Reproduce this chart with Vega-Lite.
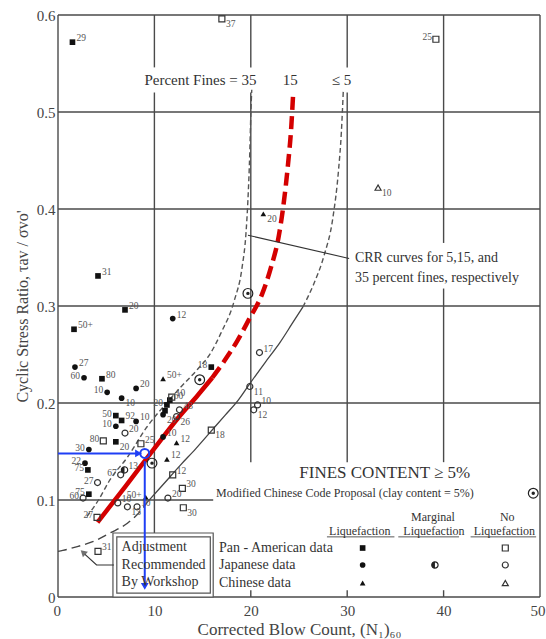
{
"$schema": "https://vega.github.io/schema/vega-lite/v6.json",
"width": 482, "height": 582,
"autosize": {"type": "none"},
"padding": {"left": 58, "top": 15, "right": 6, "bottom": 42},
"background": "white",
"config": {"view": {"stroke": null}, "font": "Liberation Serif"},
"datasets": {
"grid": [
{"x":10,"y":0.065,"x2":10,"y2":0.52},{"x":10,"y":0.546,"x2":10,"y2":0.6},
{"x":20,"y":0.139,"x2":20,"y2":0.52},{"x":20,"y":0.546,"x2":20,"y2":0.6},
{"x":30,"y":0.139,"x2":30,"y2":0.52},{"x":30,"y":0.546,"x2":30,"y2":0.6},
{"x":40,"y":0.139,"x2":40,"y2":0.318},{"x":40,"y":0.365,"x2":40,"y2":0.6},
{"x":0,"y":0.1,"x2":16.1,"y2":0.1},{"x":0,"y":0.2,"x2":50,"y2":0.2},{"x":0,"y":0.3,"x2":50,"y2":0.3},{"x":0,"y":0.4,"x2":50,"y2":0.4},{"x":0,"y":0.5,"x2":50,"y2":0.5},
{"x":0,"y":0,"x2":50,"y2":0},{"x":0,"y":0.6,"x2":50,"y2":0.6},{"x":0,"y":0,"x2":0,"y2":0.6},{"x":50,"y":0,"x2":50,"y2":0.6},
{"x":20,"y":0,"x2":20,"y2":0.007},{"x":30,"y":0,"x2":30,"y2":0.007},{"x":40,"y":0,"x2":40,"y2":0.007}
],
"underline": [
{"x":27.9,"y":0.062,"x2":34.9,"y2":0.062},{"x":35.3,"y":0.062,"x2":41.6,"y2":0.062},{"x":42.8,"y":0.062,"x2":49.6,"y2":0.062}
],
"curves": [
{"curve":"35","part":"all","x":3.0,"y":0.083},{"curve":"35","part":"all","x":4.2,"y":0.100},{"curve":"35","part":"all","x":5.4,"y":0.121},{"curve":"35","part":"all","x":7.2,"y":0.144},{"curve":"35","part":"all","x":9.2,"y":0.175},{"curve":"35","part":"all","x":11.0,"y":0.197},{"curve":"35","part":"all","x":12.7,"y":0.216},{"curve":"35","part":"all","x":14.5,"y":0.235},{"curve":"35","part":"all","x":15.8,"y":0.251},{"curve":"35","part":"all","x":16.9,"y":0.272},{"curve":"35","part":"all","x":18.3,"y":0.306},{"curve":"35","part":"all","x":19.1,"y":0.340},{"curve":"35","part":"all","x":19.5,"y":0.375},{"curve":"35","part":"all","x":19.7,"y":0.409},{"curve":"35","part":"all","x":19.9,"y":0.460},{"curve":"35","part":"all","x":20.0,"y":0.497},{"curve":"35","part":"all","x":20.1,"y":0.523},
{"curve":"15","part":"lower","x":4.1,"y":0.077},{"curve":"15","part":"lower","x":7.0,"y":0.114},{"curve":"15","part":"lower","x":9.9,"y":0.152},{"curve":"15","part":"lower","x":12.5,"y":0.185},{"curve":"15","part":"lower","x":14.5,"y":0.208},{"curve":"15","part":"lower","x":16.0,"y":0.226},
{"curve":"15","part":"upper","x":16.0,"y":0.226},{"curve":"15","part":"upper","x":17.3,"y":0.244},{"curve":"15","part":"upper","x":18.6,"y":0.264},{"curve":"15","part":"upper","x":19.8,"y":0.286},{"curve":"15","part":"upper","x":21.2,"y":0.313},{"curve":"15","part":"upper","x":22.1,"y":0.340},{"curve":"15","part":"upper","x":22.9,"y":0.372},{"curve":"15","part":"upper","x":23.4,"y":0.405},{"curve":"15","part":"upper","x":23.85,"y":0.445},{"curve":"15","part":"upper","x":24.2,"y":0.485},{"curve":"15","part":"upper","x":24.4,"y":0.520},
{"curve":"5","part":"lower","x":0,"y":0.047},{"curve":"5","part":"lower","x":0.5,"y":0.048},{"curve":"5","part":"lower","x":2.0,"y":0.052},{"curve":"5","part":"lower","x":3.6,"y":0.057},{"curve":"5","part":"lower","x":5.4,"y":0.066},{"curve":"5","part":"lower","x":7.2,"y":0.076},{"curve":"5","part":"lower","x":8.5,"y":0.088},{"curve":"5","part":"lower","x":9.2,"y":0.097},
{"curve":"5","part":"mid","x":9.2,"y":0.097},{"curve":"5","part":"mid","x":11.0,"y":0.117},{"curve":"5","part":"mid","x":12.7,"y":0.136},{"curve":"5","part":"mid","x":14.3,"y":0.153},{"curve":"5","part":"mid","x":15.8,"y":0.170},{"curve":"5","part":"mid","x":17.3,"y":0.187},{"curve":"5","part":"mid","x":18.7,"y":0.203},{"curve":"5","part":"mid","x":19.9,"y":0.220},{"curve":"5","part":"mid","x":21.5,"y":0.242},{"curve":"5","part":"mid","x":23.0,"y":0.262},{"curve":"5","part":"mid","x":24.3,"y":0.282},{"curve":"5","part":"mid","x":25.4,"y":0.299},
{"curve":"5","part":"upper","x":25.4,"y":0.299},{"curve":"5","part":"upper","x":26.5,"y":0.322},{"curve":"5","part":"upper","x":27.6,"y":0.352},{"curve":"5","part":"upper","x":28.5,"y":0.390},{"curve":"5","part":"upper","x":29.1,"y":0.440},{"curve":"5","part":"upper","x":29.4,"y":0.480},{"curve":"5","part":"upper","x":29.6,"y":0.523}
],
"points": [
{"x":1.5,"y":0.572,"src":"Pan-American","res":"Liquefaction","label":"29","side":"r"},
{"x":4.15,"y":0.331,"src":"Pan-American","res":"Liquefaction","label":"31","side":"r"},
{"x":6.95,"y":0.296,"src":"Pan-American","res":"Liquefaction","label":"20","side":"r"},
{"x":1.66,"y":0.276,"src":"Pan-American","res":"Liquefaction","label":"50+","side":"r"},
{"x":4.56,"y":0.225,"src":"Pan-American","res":"Liquefaction","label":"80","side":"r"},
{"x":6.0,"y":0.187,"src":"Pan-American","res":"Liquefaction","label":"50","side":"l"},
{"x":6.6,"y":0.182,"src":"Pan-American","res":"Liquefaction","label":"92","side":"r"},
{"x":6.0,"y":0.160,"src":"Pan-American","res":"Liquefaction","label":"20","side":"b"},
{"x":3.1,"y":0.131,"src":"Pan-American","res":"Liquefaction","label":"75","side":"l"},
{"x":3.2,"y":0.106,"src":"Pan-American","res":"Liquefaction","label":"75","side":"l"},
{"x":15.9,"y":0.237,"src":"Pan-American","res":"Liquefaction","label":"18","side":"l"},
{"x":11.3,"y":0.198,"src":"Pan-American","res":"Liquefaction","label":"20","side":"l"},
{"x":11.6,"y":0.203,"src":"Pan-American","res":"Liquefaction","label":"60","side":"r"},
{"x":11.1,"y":0.192,"src":"Pan-American","res":"Liquefaction","label":"","side":"r"},
{"x":11.9,"y":0.287,"src":"Japanese","res":"Liquefaction","label":"12","side":"r"},
{"x":1.76,"y":0.237,"src":"Japanese","res":"Liquefaction","label":"27","side":"r"},
{"x":2.7,"y":0.226,"src":"Japanese","res":"Liquefaction","label":"60","side":"l"},
{"x":5.1,"y":0.211,"src":"Japanese","res":"Liquefaction","label":"10","side":"l"},
{"x":8.1,"y":0.215,"src":"Japanese","res":"Liquefaction","label":"20","side":"r"},
{"x":6.6,"y":0.205,"src":"Japanese","res":"Liquefaction","label":"10","side":"b"},
{"x":6.0,"y":0.176,"src":"Japanese","res":"Liquefaction","label":"10","side":"l"},
{"x":8.1,"y":0.181,"src":"Japanese","res":"Liquefaction","label":"10","side":"r"},
{"x":3.2,"y":0.152,"src":"Japanese","res":"Liquefaction","label":"30","side":"l"},
{"x":2.8,"y":0.138,"src":"Japanese","res":"Liquefaction","label":"22","side":"l"},
{"x":10.9,"y":0.165,"src":"Japanese","res":"Liquefaction","label":"10","side":"r"},
{"x":10.9,"y":0.188,"src":"Japanese","res":"Liquefaction","label":"20","side":"b"},
{"x":20.9,"y":0.252,"src":"Japanese","res":"No Liquefaction","label":"17","side":"r"},
{"x":19.9,"y":0.217,"src":"Japanese","res":"No Liquefaction","label":"11","side":"b"},
{"x":20.7,"y":0.198,"src":"Japanese","res":"No Liquefaction","label":"10","side":"r"},
{"x":20.3,"y":0.193,"src":"Japanese","res":"No Liquefaction","label":"12","side":"b"},
{"x":6.95,"y":0.169,"src":"Japanese","res":"No Liquefaction","label":"20","side":"r"},
{"x":4.1,"y":0.118,"src":"Japanese","res":"No Liquefaction","label":"27","side":"l"},
{"x":2.6,"y":0.102,"src":"Japanese","res":"No Liquefaction","label":"60","side":"l"},
{"x":6.2,"y":0.097,"src":"Japanese","res":"No Liquefaction","label":"10","side":"r"},
{"x":7.2,"y":0.093,"src":"Japanese","res":"No Liquefaction","label":"13","side":"b"},
{"x":8.2,"y":0.093,"src":"Japanese","res":"No Liquefaction","label":"10","side":"r"},
{"x":11.4,"y":0.102,"src":"Japanese","res":"No Liquefaction","label":"20","side":"r"},
{"x":12.6,"y":0.193,"src":"Japanese","res":"No Liquefaction","label":"48","side":"r"},
{"x":12.3,"y":0.186,"src":"Japanese","res":"No Liquefaction","label":"26","side":"b"},
{"x":6.5,"y":0.126,"src":"Japanese","res":"No Liquefaction","label":"67","side":"l"},
{"x":17.0,"y":0.596,"src":"Pan-American","res":"No Liquefaction","label":"37","side":"b"},
{"x":39.2,"y":0.575,"src":"Pan-American","res":"No Liquefaction","label":"25","side":"l"},
{"x":15.9,"y":0.172,"src":"Pan-American","res":"No Liquefaction","label":"18","side":"b"},
{"x":4.7,"y":0.161,"src":"Pan-American","res":"No Liquefaction","label":"80","side":"l"},
{"x":8.6,"y":0.158,"src":"Pan-American","res":"No Liquefaction","label":"25","side":"r"},
{"x":12.9,"y":0.112,"src":"Pan-American","res":"No Liquefaction","label":"30","side":"r"},
{"x":13.0,"y":0.092,"src":"Pan-American","res":"No Liquefaction","label":"30","side":"b"},
{"x":11.9,"y":0.126,"src":"Pan-American","res":"No Liquefaction","label":"12","side":"r"},
{"x":4.05,"y":0.082,"src":"Pan-American","res":"No Liquefaction","label":"27","side":"l"},
{"x":4.15,"y":0.047,"src":"Pan-American","res":"No Liquefaction","label":"31","side":"r"},
{"x":11.8,"y":0.206,"src":"Pan-American","res":"No Liquefaction","label":"10","side":"r"},
{"x":10.9,"y":0.225,"src":"Chinese","res":"Liquefaction","label":"50+","side":"r"},
{"x":21.3,"y":0.395,"src":"Chinese","res":"Liquefaction","label":"20","side":"b"},
{"x":11.3,"y":0.142,"src":"Chinese","res":"Liquefaction","label":"12","side":"r"},
{"x":12.3,"y":0.159,"src":"Chinese","res":"Liquefaction","label":"12","side":"r"},
{"x":9.1,"y":0.103,"src":"Chinese","res":"Liquefaction","label":"50+","side":"l"},
{"x":33.2,"y":0.422,"src":"Chinese","res":"No Liquefaction","label":"10","side":"b"},
{"x":6.9,"y":0.131,"src":"Japanese","res":"Marginal","label":"13","side":"r"},
{"x":14.7,"y":0.224,"src":"Modified Chinese Code","res":"Clay","label":"","side":"r"},
{"x":19.7,"y":0.313,"src":"Modified Chinese Code","res":"Clay","label":"","side":"r"},
{"x":9.75,"y":0.138,"src":"Modified Chinese Code","res":"Clay","label":"","side":"r"},
{"x":49.3,"y":0.107,"src":"Modified Chinese Code","res":"Clay","label":"","side":"r"},
{"x":31.6,"y":0.0505,"src":"Pan-American","res":"Liquefaction","label":"","side":"r"},
{"x":31.6,"y":0.033,"src":"Japanese","res":"Liquefaction","label":"","side":"r"},
{"x":31.6,"y":0.0144,"src":"Chinese","res":"Liquefaction","label":"","side":"r"},
{"x":39.1,"y":0.033,"src":"Japanese","res":"Marginal","label":"","side":"r"},
{"x":46.4,"y":0.0505,"src":"Pan-American","res":"No Liquefaction","label":"","side":"r"},
{"x":46.4,"y":0.033,"src":"Japanese","res":"No Liquefaction","label":"","side":"r"},
{"x":46.4,"y":0.0144,"src":"Chinese","res":"No Liquefaction","label":"","side":"r"}
]
},
"encoding": {
"x": {"field": "x", "type": "quantitative", "scale": {"domain": [0, 50], "nice": false, "zero": false},
 "axis": {"values": [0,10,20,30,40,50], "grid": false, "domain": false, "ticks": false, "labelFont": "Liberation Serif", "labelFontSize": 15, "labelColor": "#444", "labelPadding": 6, "labelFlush": true, "labelFlushOffset": 5, "title": "Corrected Blow Count, (N₁)₆₀", "titleFont": "Liberation Serif", "titleFontSize": 17, "titleFontWeight": "normal", "titleColor": "#444", "titlePadding": 3}},
"y": {"field": "y", "type": "quantitative", "scale": {"domain": [0, 0.6], "nice": false, "zero": false},
 "axis": {"values": [0,0.1,0.2,0.3,0.4,0.5,0.6], "format": ".1~f", "grid": false, "domain": false, "ticks": false, "labelFont": "Liberation Serif", "labelFontSize": 15, "labelColor": "#444", "labelPadding": 3, "labelFlush": false, "title": "Cyclic Stress Ratio, τav / σvo'", "titleFont": "Liberation Serif", "titleFontSize": 16, "titleFontWeight": "normal", "titleColor": "#444", "titlePadding": 6}}
},
"layer": [
{"data": {"name": "grid"}, "mark": {"type": "rule", "color": "#4a4a4a", "strokeWidth": 1.4}, "encoding": {"x2": {"field": "x2"}, "y2": {"field": "y2"}}},
{"data": {"name": "underline"}, "mark": {"type": "rule", "color": "#444", "strokeWidth": 0.9}, "encoding": {"x2": {"field": "x2"}, "y2": {"field": "y2"}}},
{"data": {"values": [{"x": 5.7, "y": 0, "x2": 16.1, "y2": 0.066}]}, "mark": {"type": "rect", "fill": "white", "stroke": "#555", "strokeWidth": 1.2}, "encoding": {"x2": {"field": "x2"}, "y2": {"field": "y2"}}},
{"data": {"values": [{"x": 6.1, "y": 0.004, "x2": 15.8, "y2": 0.062}]}, "mark": {"type": "rect", "fill": "white", "stroke": "#555", "strokeWidth": 1.2}, "encoding": {"x2": {"field": "x2"}, "y2": {"field": "y2"}}},
{"data": {"name": "curves"}, "transform": [{"filter": "datum.curve == '35'"}], "mark": {"type": "line", "color": "#555", "strokeWidth": 1.4, "strokeDash": [5, 3], "interpolate": "monotone"}, "encoding": {"order": {"field": "y"}}},
{"data": {"name": "curves"}, "transform": [{"filter": "datum.curve == '5' && datum.part == 'lower'"}], "mark": {"type": "line", "color": "#444", "strokeWidth": 1.4, "strokeDash": [9, 5], "interpolate": "monotone"}, "encoding": {"order": {"field": "y"}}},
{"data": {"name": "curves"}, "transform": [{"filter": "datum.curve == '5' && datum.part == 'mid'"}], "mark": {"type": "line", "color": "#444", "strokeWidth": 1.3, "interpolate": "monotone"}, "encoding": {"order": {"field": "y"}}},
{"data": {"name": "curves"}, "transform": [{"filter": "datum.curve == '5' && datum.part == 'upper'"}], "mark": {"type": "line", "color": "#555", "strokeWidth": 1.4, "strokeDash": [5, 3], "interpolate": "monotone"}, "encoding": {"order": {"field": "y"}}},
{"data": {"name": "curves"}, "transform": [{"filter": "datum.curve == '15' && datum.part == 'lower'"}], "mark": {"type": "line", "color": "#d40000", "strokeWidth": 4.5, "interpolate": "monotone"}, "encoding": {"order": {"field": "y"}}},
{"data": {"name": "curves"}, "transform": [{"filter": "datum.curve == '15' && datum.part == 'upper'"}], "mark": {"type": "line", "color": "#d40000", "strokeWidth": 4.5, "strokeDash": [13, 6], "interpolate": "monotone"}, "encoding": {"order": {"field": "y"}}},
{"data": {"values": [{"x": 19.7, "y": 0.373}, {"x": 30.2, "y": 0.349}]}, "mark": {"type": "line", "color": "#333", "strokeWidth": 1.1}, "encoding": {}},
{"data": {"values": [{"x": 5.8, "y": 0.033}, {"x": 4.0, "y": 0.033}, {"x": 2.8, "y": 0.044}]}, "mark": {"type": "line", "color": "#333", "strokeWidth": 1.2}, "encoding": {}},
{"data": {"values": [{"x": 2.6, "y": 0.046}]}, "mark": {"type": "point", "shape": "triangle-up", "filled": true, "color": "#333", "size": 55, "angle": 313}},
{"data": {"name": "points"}, "transform": [{"filter": "datum.res == 'Liquefaction'"}], "mark": {"type": "point", "filled": true, "color": "#111", "size": 32, "opacity": 1},
 "encoding": {"shape": {"field": "src", "type": "nominal", "scale": {"domain": ["Pan-American", "Japanese", "Chinese"], "range": ["square", "circle", "triangle-up"]}, "legend": null}}},
{"data": {"name": "points"}, "transform": [{"filter": "datum.res == 'No Liquefaction'"}], "mark": {"type": "point", "filled": false, "color": "#333", "strokeWidth": 1.2, "size": 36, "opacity": 1},
 "encoding": {"shape": {"field": "src", "type": "nominal", "scale": {"domain": ["Pan-American", "Japanese", "Chinese"], "range": ["square", "circle", "triangle-up"]}, "legend": null}}},
{"data": {"name": "points"}, "transform": [{"filter": "datum.res == 'Marginal'"}], "mark": {"type": "point", "shape": "circle", "filled": false, "color": "#222", "strokeWidth": 1.2, "size": 40, "opacity": 1}},
{"data": {"name": "points"}, "transform": [{"filter": "datum.res == 'Marginal'"}], "mark": {"type": "point", "shape": "M0,-1A1,1 0 0,0 0,1Z", "filled": true, "color": "#222", "size": 40, "opacity": 1}},
{"data": {"name": "points"}, "transform": [{"filter": "datum.res == 'Clay'"}], "mark": {"type": "point", "shape": "circle", "filled": false, "color": "#222", "strokeWidth": 1.2, "size": 95, "opacity": 1}},
{"data": {"name": "points"}, "transform": [{"filter": "datum.res == 'Clay'"}], "mark": {"type": "point", "shape": "circle", "filled": true, "color": "#222", "size": 12, "opacity": 1}},
{"data": {"name": "points"}, "transform": [{"filter": "datum.label != '' && datum.side == 'r'"}], "mark": {"type": "text", "align": "left", "baseline": "middle", "dx": 4, "dy": -4, "fontSize": 9.5, "color": "#555", "font": "Liberation Serif"}, "encoding": {"text": {"field": "label"}}},
{"data": {"name": "points"}, "transform": [{"filter": "datum.label != '' && datum.side == 'b'"}], "mark": {"type": "text", "align": "left", "baseline": "middle", "dx": 4, "dy": 5, "fontSize": 9.5, "color": "#555", "font": "Liberation Serif"}, "encoding": {"text": {"field": "label"}}},
{"data": {"name": "points"}, "transform": [{"filter": "datum.label != '' && datum.side == 'l'"}], "mark": {"type": "text", "align": "right", "baseline": "middle", "dx": -4, "dy": -2, "fontSize": 9.5, "color": "#555", "font": "Liberation Serif"}, "encoding": {"text": {"field": "label"}}},
{"data": {"values": [{"x": 0, "y": 0.148, "x2": 8.3, "y2": 0.148}, {"x": 9.0, "y": 0.140, "x2": 9.0, "y2": 0.012}]}, "mark": {"type": "rule", "color": "#1f3ff5", "strokeWidth": 2}, "encoding": {"x2": {"field": "x2"}, "y2": {"field": "y2"}}},
{"data": {"values": [{"x": 8.35, "y": 0.148}]}, "mark": {"type": "point", "shape": "triangle-right", "filled": true, "color": "#1f3ff5", "size": 60, "opacity": 1}},
{"data": {"values": [{"x": 9.0, "y": 0.011}]}, "mark": {"type": "point", "shape": "triangle-down", "filled": true, "color": "#1f3ff5", "size": 60, "opacity": 1}},
{"data": {"values": [{"x": 9.0, "y": 0.148}]}, "mark": {"type": "point", "shape": "circle", "filled": false, "color": "#1f3ff5", "strokeWidth": 2, "size": 80, "opacity": 1}},
{"data": {"values": [{"x": 20.6, "y": 0.533, "t": "Percent Fines = 35"}]}, "mark": {"type": "text", "align": "right", "baseline": "middle", "fontSize": 15, "color": "#333", "font": "Liberation Serif"}, "encoding": {"text": {"field": "t"}}},
{"data": {"values": [{"x": 24.1, "y": 0.533, "t": "15"}, {"x": 29.4, "y": 0.533, "t": "≤ 5"}]}, "mark": {"type": "text", "align": "center", "baseline": "middle", "fontSize": 15, "color": "#333", "font": "Liberation Serif"}, "encoding": {"text": {"field": "t"}}},
{"data": {"values": [{"x": 30.8, "y": 0.349, "t": "CRR curves for 5,15, and"}, {"x": 30.8, "y": 0.329, "t": "35 percent fines, respectively"}]}, "mark": {"type": "text", "align": "left", "baseline": "middle", "fontSize": 14, "color": "#333", "font": "Liberation Serif"}, "encoding": {"text": {"field": "t"}}},
{"data": {"values": [{"x": 33.9, "y": 0.128, "t": "FINES CONTENT ≥ 5%"}]}, "mark": {"type": "text", "align": "center", "baseline": "middle", "fontSize": 17, "color": "#333", "font": "Liberation Serif"}, "encoding": {"text": {"field": "t"}}},
{"data": {"values": [{"x": 16.4, "y": 0.107, "t": "Modified Chinese Code Proposal (clay content = 5%)"}]}, "mark": {"type": "text", "align": "left", "baseline": "middle", "fontSize": 12, "color": "#333", "font": "Liberation Serif"}, "encoding": {"text": {"field": "t"}}},
{"data": {"values": [{"x": 31.3, "y": 0.068, "t": "Liquefaction"}, {"x": 38.9, "y": 0.082, "t": "Marginal"}, {"x": 39.0, "y": 0.068, "t": "Liquefaction"}, {"x": 46.6, "y": 0.082, "t": "No"}, {"x": 46.3, "y": 0.068, "t": "Liquefaction"}]}, "mark": {"type": "text", "align": "center", "baseline": "middle", "fontSize": 12, "color": "#333", "font": "Liberation Serif"}, "encoding": {"text": {"field": "t"}}},
{"data": {"values": [{"x": 16.7, "y": 0.0505, "t": "Pan - American data"}, {"x": 16.7, "y": 0.033, "t": "Japanese data"}, {"x": 16.7, "y": 0.0144, "t": "Chinese data"}]}, "mark": {"type": "text", "align": "left", "baseline": "middle", "fontSize": 14, "color": "#333", "font": "Liberation Serif"}, "encoding": {"text": {"field": "t"}}},
{"data": {"values": [{"x": 6.6, "y": 0.0515, "t": "Adjustment"}, {"x": 6.6, "y": 0.033, "t": "Recommended"}, {"x": 6.6, "y": 0.0155, "t": "By Workshop"}]}, "mark": {"type": "text", "align": "left", "baseline": "middle", "fontSize": 14, "color": "#333", "font": "Liberation Serif"}, "encoding": {"text": {"field": "t"}}}
]
}
